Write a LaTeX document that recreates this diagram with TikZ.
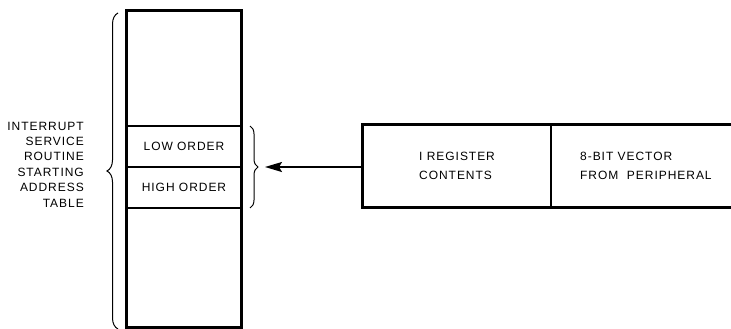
\documentclass[tikz,border=0pt]{standalone}
\usepackage{fontspec}
\setmainfont{Liberation Sans}
\newfontfamily\labfont{Liberation Sans}[LetterSpace=8]
\usetikzlibrary{arrows.meta,decorations.pathreplacing}
\begin{document}
\begin{tikzpicture}[x=1pt,y=-1pt,
  every node/.style={font=\labfont\fontsize{12}{15.4}\selectfont, inner sep=0pt},
  cell/.style={minimum width=114pt},
  regcell/.style={minimum height=82pt},
  curly/.style={decorate, line width=1pt},
  feed/.style={line width=1.8pt, -{Stealth[length=17pt,width=10pt,inset=3pt]}}]
\useasboundingbox (0,0) rectangle (731,329);

% address table column
\node[cell, minimum height=115pt] (top)  at (184,68.5) {};
\node[cell, minimum height=41pt]  (low)  at (184,146.5) {LOW ORDER};
\node[cell, minimum height=41pt]  (high) at (184,187.5) {HIGH ORDER};
\node[cell, minimum height=119pt] (bot)  at (184,267.5) {};
\draw[line width=3pt] (top.north west) rectangle (bot.south east);
\draw[line width=2.2pt] (low.north west) -- (low.north east)
                        (high.north west) -- (high.north east)
                        (bot.north west) -- (bot.north east);

% label of the table
\node[align=right, anchor=east] (label) at (84,164.5)
  {INTERRUPT\\SERVICE\\ROUTINE\\STARTING\\ADDRESS\\TABLE};

% braces
\coordinate (bigtop) at (118,13);
\coordinate (bigbot) at (118,329);
\draw[curly, decoration={brace, amplitude=11pt}] (bigbot) -- (bigtop);
\coordinate (pairtop) at (250,126);
\coordinate (pairbot) at (250,208);
\draw[curly, decoration={brace, amplitude=8pt}] (pairtop) -- (pairbot);

% vector register box
\node[regcell, minimum width=188pt] (reg) at (457,166) {};
\node[regcell, minimum width=180pt] (vec) at (641,166) {};
\node[align=left, anchor=west] (regtxt) at (419,166)
  {I REGISTER\\[3.5pt]CONTENTS};
\node[align=left, anchor=west] (vectxt) at (580,166)
  {8-BIT VECTOR\\[3.5pt]FROM\ \ PERIPHERAL};
\draw[line width=2.8pt] (vec.north east) -- (reg.north west) -- (reg.south west) -- (vec.south east);
\draw[line width=2.2pt] (reg.north east) -- (reg.south east);

% pointer into the table
\coordinate (tip) at (265,167);
\draw[feed] (reg.west |- tip) -- (tip);
\end{tikzpicture}
\end{document}
